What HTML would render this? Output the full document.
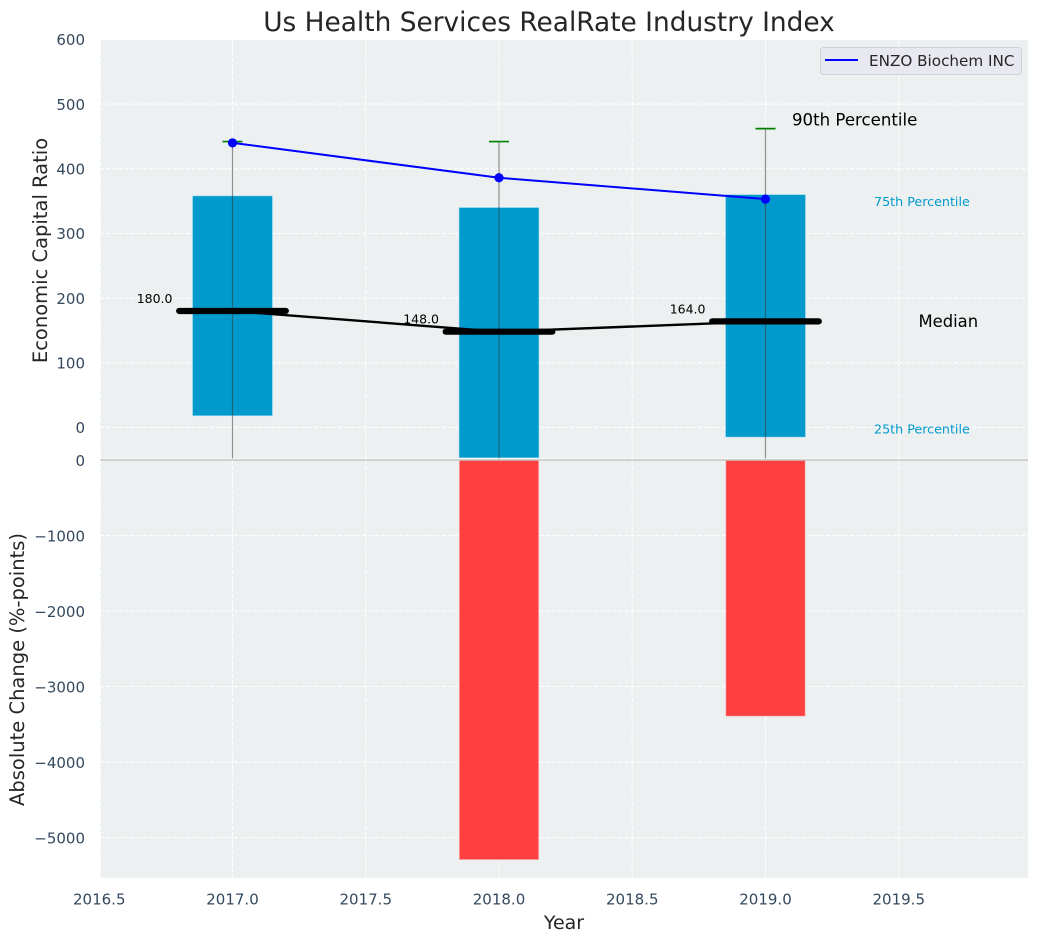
<!DOCTYPE html>
<html lang="en">
<head>
<meta charset="utf-8">
<title>Us Health Services RealRate Industry Index</title>
<style>
html,body{margin:0;padding:0;background:#fff;width:1039px;height:942px;overflow:hidden}
svg{display:block;font-family:"DejaVu Sans","Liberation Sans",sans-serif}
</style>
</head>
<body>
<svg id="chart" xmlns="http://www.w3.org/2000/svg" width="1039" height="942" viewBox="0 0 1039 942"></svg>
<script>
const years = [2017, 2018, 2019];
const p90 = [442, 442, 462];
const p75 = [358, 340, 360];
const medians = [180, 148, 164];
const p25 = [18, -47, -15];
const whiskerLow = [-48, -48, -48];
const company = [440, 386, 353];
const absChange = [0, -5290, -3390];
const xTicks = [2016.5, 2017, 2017.5, 2018, 2018.5, 2019, 2019.5];
const xTickLabels = ['2016.5', '2017.0', '2017.5', '2018.0', '2018.5', '2019.0', '2019.5'];
const topTicks = [0, 100, 200, 300, 400, 500, 600];
const bottomTicks = [-5000, -4000, -3000, -2000, -1000, 0];
const medianLabels = ['180.0', '148.0', '164.0'];
const legendLabel = 'ENZO Biochem INC';

const svg = document.getElementById('chart');
const NS = 'http://www.w3.org/2000/svg';
const plotL = 100, plotR = 1028, topT = 40, topB = 458.5, botT = 460, botB = 878;
const X = v => 232.5 + (v - 2017) * 266.5;
const YT = v => 427.4 - v * 0.6467;
const YB = v => 460 - v * 0.0755;
const barHalf = 0.15, redHalf = 0.148, medHalf = 0.2;

function mk(tag, attrs, text) {
  const el = document.createElementNS(NS, tag);
  for (const k in attrs) el.setAttribute(k, attrs[k]);
  if (text !== undefined) el.textContent = text;
  svg.appendChild(el);
  return el;
}
function gridStyle() {
  return { stroke: '#ffffff', 'stroke-width': 1.1, 'stroke-dasharray': '4.2,1.9', 'stroke-opacity': 0.95 };
}
let el;

el = mk('rect', { x: plotL, y: topT, width: plotR - plotL, height: topB - topT, fill: '#ecf0f1' });


el = mk('rect', { x: plotL, y: botT, width: plotR - plotL, height: botB - botT, fill: '#ecf0f1' });



// grid
xTicks.forEach(t => {
  const px = Math.max(plotL + 0.5, X(t));
  el = mk('line', Object.assign({ x1: px, x2: px, y1: topT, y2: topB }, gridStyle()));
  
  
  el = mk('line', Object.assign({ x1: px, x2: px, y1: botT, y2: botB }, gridStyle()));
  
  
});
topTicks.forEach(t => {
  el = mk('line', Object.assign({ x1: plotL, x2: plotR, y1: YT(t), y2: YT(t) }, gridStyle()));
  
  
  el = mk('text', { x: 85, y: YT(t) + 5.8, 'text-anchor': 'end', 'font-size': 15, fill: '#34495e' }, String(t));
  
  
});
bottomTicks.forEach(t => {
  el = mk('line', Object.assign({ x1: plotL, x2: plotR, y1: YB(t), y2: YB(t) }, gridStyle()));
  
  
  el = mk('text', { x: 85, y: YB(t) + 5.8, 'text-anchor': 'end', 'font-size': 15, fill: '#34495e' }, String(t).replace('-', '\u2212'));
  
  
});
xTicks.forEach((t, i) => {
  el = mk('text', { x: X(t), y: 904.5, 'text-anchor': 'middle', 'font-size': 15, fill: '#34495e' }, xTickLabels[i]);
  
  
});

// percentile boxes
years.forEach((yr, i) => {
  const a = YT(p75[i]);
  const b = Math.min(YT(p25[i]), topB);
  el = mk('rect', { x: X(yr - barHalf), y: a, width: X(yr + barHalf) - X(yr - barHalf), height: b - a, fill: '#009acd', stroke: '#a8dcf0', 'stroke-width': 0.6 });
  
  
});

// whiskers
years.forEach((yr, i) => {
  el = mk('line', { x1: X(yr), x2: X(yr), y1: YT(p90[i]), y2: Math.min(YT(whiskerLow[i]), topB), stroke: '#3a3a3a', 'stroke-opacity': 0.55, 'stroke-width': 1.2 });
  
  
  el = mk('line', { x1: X(yr) - 10, x2: X(yr) + 10, y1: YT(p90[i]), y2: YT(p90[i]), stroke: '#008000', 'stroke-width': 1.7 });
  
  
});

// median trend and thick segments
el = mk('polyline', { points: years.map((yr, i) => X(yr) + ',' + YT(medians[i])).join(' '), fill: 'none', stroke: '#000', 'stroke-width': 2.4 });


years.forEach((yr, i) => {
  el = mk('line', { x1: X(yr - medHalf), x2: X(yr + medHalf), y1: YT(medians[i]), y2: YT(medians[i]), stroke: '#000', 'stroke-width': 6.2, 'stroke-linecap': 'round' });
  
  
  el = mk('text', { x: X(yr) - 60, y: YT(medians[i]) - 8, 'text-anchor': 'end', 'font-size': 12.5, fill: '#000' }, medianLabels[i]);
  
  
});

// company line
el = mk('polyline', { points: years.map((yr, i) => X(yr) + ',' + YT(company[i])).join(' '), fill: 'none', stroke: '#0000ff', 'stroke-width': 2 });


years.forEach((yr, i) => {
  el = mk('circle', { cx: X(yr), cy: YT(company[i]), r: 4.6, fill: '#0000ff' });
  
  
});

// absolute change bars
years.forEach((yr, i) => {
  if (absChange[i] === 0) return;
  el = mk('rect', { x: X(yr - redHalf), y: YB(0), width: X(yr + redHalf) - X(yr - redHalf), height: YB(absChange[i]) - YB(0), fill: '#ff4040', stroke: '#ff7070', 'stroke-width': 0.6 });
  
  
});

// separator
el = mk('line', { x1: plotL, x2: plotR, y1: 460, y2: 460, stroke: '#c4c4c4', 'stroke-width': 1.4 });



// percentile annotations, anchored to the last year
const last = years.length - 1;
el = mk('text', { x: X(years[last]) + 26.5, y: YT(p90[last]) - 3, 'font-size': 16.6, fill: '#000' }, '90th Percentile');


el = mk('text', { x: X(years[last]) + 108.5, y: YT(p75[last]) + 11.5, 'font-size': 12.7, fill: '#009acd' }, '75th Percentile');


el = mk('text', { x: X(years[last]) + 153, y: YT(medians[last]) + 5.5, 'font-size': 16.4, fill: '#000' }, 'Median');


el = mk('text', { x: X(years[last]) + 108.5, y: YT(p25[last]) - 3.5, 'font-size': 12.7, fill: '#009acd' }, '25th Percentile');



// legend
el = mk('rect', { x: 820.5, y: 47.5, width: 201, height: 27, rx: 3, fill: '#e8e9f0', stroke: '#d2d2d6', 'stroke-width': 1 });


el = mk('line', { x1: 825, x2: 858, y1: 60, y2: 60, stroke: '#0000ff', 'stroke-width': 2 });


el = mk('text', { x: 869, y: 66, 'font-size': 15.2, fill: '#262626' }, legendLabel);



// titles
el = mk('text', { x: 549, y: 31, 'text-anchor': 'middle', 'font-size': 26.4, fill: '#262626' }, 'Us Health Services RealRate Industry Index');


el = mk('text', { x: 564, y: 929, 'text-anchor': 'middle', 'font-size': 19, fill: '#262626' }, 'Year');


el = mk('text', { transform: 'translate(47,250.5) rotate(-90)', 'text-anchor': 'middle', 'font-size': 19.5, fill: '#262626' }, 'Economic Capital Ratio');


el = mk('text', { transform: 'translate(24,669.5) rotate(-90)', 'text-anchor': 'middle', 'font-size': 19.5, fill: '#262626' }, 'Absolute Change (%-points)');


</script>
</body>
</html>
